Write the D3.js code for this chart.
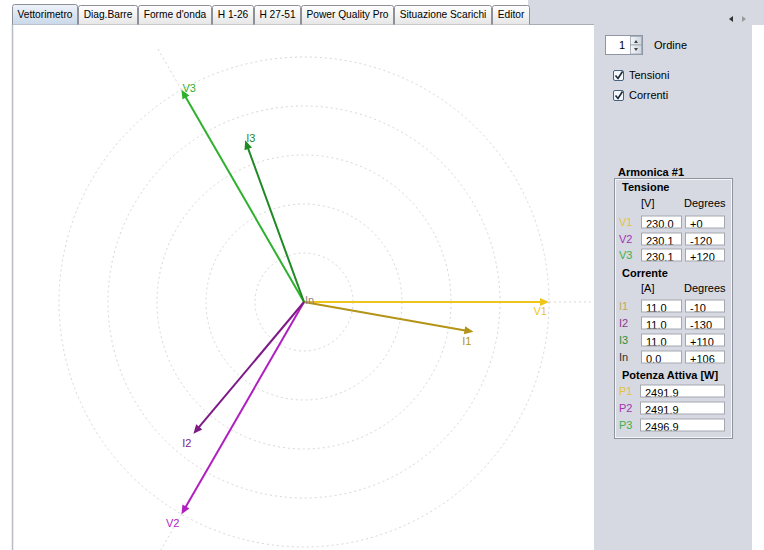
<!DOCTYPE html>
<html><head><meta charset="utf-8">
<script src="https://cdn.jsdelivr.net/npm/d3@7"></script>
<style>
html,body{margin:0;padding:0;background:#fff;}
svg{display:block;font-family:"Liberation Sans",Arial,sans-serif;}
</style></head>
<body>
<svg id="c" width="764" height="550"></svg>
<script>
// ---------- data ----------
const tabLabels = ["Vettorimetro","Diag.Barre","Forme d'onda","H 1-26","H 27-51","Power Quality Pro","Situazione Scarichi","Editor"];
const voltageLabels = ["V1","V2","V3"];
const voltageMag = [230.0, 230.1, 230.1];
const voltageDeg = [0, -120, 120];
const currentLabels = ["I1","I2","I3","In"];
const currentMag = [11.0, 11.0, 11.0, 0.0];
const currentDeg = [-10, -130, 110, 106];
const powerLabels = ["P1","P2","P3"];
const powerVals = [2491.9, 2491.9, 2496.9];
const ringTicks = [46, 92, 138, 184, 230];
const harmonicOrder = 1;

const voltageColors = ["#f0c419","#b01fbf","#2fb02f"];
const currentColors = ["#b39416","#7d1a86","#1f8a24","#888888"];
const labelColors = {V1:"#e6c23a",V2:"#a532b4",V3:"#3fb04a",I1:"#c2aa55",I2:"#8a3a90",I3:"#2f8f3a",In:"#333",P1:"#e6c23a",P2:"#a532b4",P3:"#3fb04a"};

// ---------- setup ----------
const svg = d3.select("#c");
const W = 764, H = 550;
const panelBg = "#d6d9e1";
const defs = svg.append("defs");
const loc = d3.formatLocale({decimal:".",thousands:"",grouping:[3],currency:["",""],minus:"-"});

// backgrounds
svg.append("rect").attr("x",0).attr("y",0).attr("width",W).attr("height",H).attr("fill","#fff");
svg.append("rect").attr("x",528).attr("y",0).attr("width",W-528).attr("height",25).attr("fill",panelBg);
svg.append("rect").attr("x",594).attr("y",25).attr("width",158).attr("height",H-25).attr("fill",panelBg);

// plot panel border
svg.append("line").attr("x1",12.5).attr("x2",12.5).attr("y1",24).attr("y2",H).attr("stroke","#b9bcc4").attr("stroke-width",1.5);
svg.append("line").attr("x1",12).attr("x2",594).attr("y1",24.5).attr("y2",24.5).attr("stroke","#a9adb5");

// ---------- tabs ----------
const tabG = svg.append("g");
const gTab = defs.append("linearGradient").attr("id","tabg").attr("x1",0).attr("x2",0).attr("y1",0).attr("y2",1);
gTab.append("stop").attr("offset","0").attr("stop-color","#ffffff");
gTab.append("stop").attr("offset","1").attr("stop-color","#e6e6e6");
const gSel = defs.append("linearGradient").attr("id","tabsel").attr("x1",0).attr("x2",0).attr("y1",0).attr("y2",1);
gSel.append("stop").attr("offset","0").attr("stop-color","#eef3f9");
gSel.append("stop").attr("offset","1").attr("stop-color","#c9d8e9");
let tx = 12;
const tabFont = 10.2;
const measure = svg.append("text").attr("font-size",tabFont).attr("visibility","hidden");
tabLabels.forEach((t,i)=>{
  measure.text(t);
  const w = Math.round(measure.node().getComputedTextLength()) + 11;
  const sel = i===0;
  const y0 = sel?4:5;
  tabG.append("path")
    .attr("d",`M${tx+0.5},24.5 V${y0+2.5} Q${tx+0.5},${y0+0.5} ${tx+2.5},${y0+0.5} H${tx+w-2.5} Q${tx+w-0.5},${y0+0.5} ${tx+w-0.5},${y0+2.5} V24.5`)
    .attr("fill",sel?"url(#tabsel)":"url(#tabg)").attr("stroke","#8d9096");
  tabG.append("text").attr("x",tx+w/2).attr("y",18).attr("text-anchor","middle").attr("font-size",tabFont).attr("fill","#000").text(t);
  tx += w;
});
measure.remove();
// scroll arrows
svg.append("path").attr("d","M729,19 L733,16 L733,22 Z").attr("fill","#333");
svg.append("path").attr("d","M742,16 L746,19 L742,22 Z").attr("fill","#9a9a9a");

// ---------- polar plot ----------
const cx = 304, cy = 302;
const clip = defs.append("clipPath").attr("id","plotclip");
clip.append("rect").attr("x",13).attr("y",25).attr("width",581).attr("height",H-25);
const plot = svg.append("g").attr("clip-path","url(#plotclip)");

const rV = d3.scaleLinear().domain([0, 230]).range([0, 245]);
const rI = d3.scaleLinear().domain([0, 11]).range([0, 172]);
const toRad = d3.scaleLinear().domain([0, 360]).range([0, 2*Math.PI]);
const px = (r,deg)=> cx + r*Math.cos(toRad(deg));
const py = (r,deg)=> cy - r*Math.sin(toRad(deg));

// rings
plot.selectAll("circle.ring").data(ringTicks).join("circle")
  .attr("cx",cx).attr("cy",cy).attr("r",d=>rV(d))
  .attr("fill","none").attr("stroke","#d6d6d6").attr("stroke-width",1).attr("stroke-dasharray","2,3");

// extension lines of voltage phasors
plot.selectAll("line.ext").data(voltageDeg).join("line")
  .attr("x1",d=>px(rV(230),d)).attr("y1",d=>py(rV(230),d))
  .attr("x2",d=>px(rV(230)*1.2,d)).attr("y2",d=>py(rV(230)*1.2,d))
  .attr("stroke","#d6d6d6").attr("stroke-dasharray","2,3");

function arrow(g, len, deg, color, width){
  if(len <= 0) return;
  const x2 = px(len,deg), y2 = py(len,deg);
  const hl = 9, hw = 4;
  const bx = px(len-hl,deg), by = py(len-hl,deg);
  const nx = Math.sin(toRad(deg)), ny = Math.cos(toRad(deg));
  g.append("line").attr("x1",cx).attr("y1",cy).attr("x2",px(len-4,deg)).attr("y2",py(len-4,deg))
    .attr("stroke",color).attr("stroke-width",width);
  g.append("path").attr("d",`M${x2},${y2} L${bx+nx*hw},${by+ny*hw} L${bx-nx*hw},${by-ny*hw} Z`).attr("fill",color);
}
function label(g, len, deg, text, color){
  const x = px(len,deg), y = py(len,deg);
  const upper = Math.sin(toRad(deg)) > 0.01;
  g.append("text").attr("x", upper? x+1 : x-2).attr("y", upper? y+2 : y+13)
    .attr("text-anchor", upper?"start":"end").attr("font-size",11).attr("fill",color).text(text);
}

const vecG = plot.append("g");
voltageMag.forEach((m,i)=> arrow(vecG, rV(m), voltageDeg[i], voltageColors[i], 2));
currentMag.forEach((m,i)=> arrow(vecG, rI(m), currentDeg[i], currentColors[i], 2));
voltageMag.forEach((m,i)=> label(vecG, rV(m), voltageDeg[i], voltageLabels[i], voltageColors[i]));
currentMag.forEach((m,i)=> label(vecG, rI(m), currentDeg[i], currentLabels[i], currentColors[i]));

// ---------- right panel ----------
const rp = svg.append("g");
// spinner
rp.append("rect").attr("x",605.5).attr("y",35.5).attr("width",37).attr("height",19).attr("fill","#fff").attr("stroke","#8e96a3");
rp.append("text").attr("x",625).attr("y",49).attr("text-anchor","end").attr("font-size",11).text(harmonicOrder);
const gBtn = defs.append("linearGradient").attr("id","btng").attr("x1",0).attr("x2",1).attr("y1",0).attr("y2",0);
gBtn.append("stop").attr("offset","0").attr("stop-color","#f4f6f9");
gBtn.append("stop").attr("offset","1").attr("stop-color","#cfd6df");
rp.append("rect").attr("x",630.5).attr("y",36.5).attr("width",11).attr("height",8.5).attr("fill","url(#btng)").attr("stroke","#9aa2ad").attr("stroke-width",0.8);
rp.append("rect").attr("x",630.5).attr("y",45).attr("width",11).attr("height",9).attr("fill","url(#btng)").attr("stroke","#9aa2ad").attr("stroke-width",0.8);
rp.append("path").attr("d","M634,43 L636,40 L638,43 Z").attr("fill","#444");
rp.append("path").attr("d","M634,48 L636,51 L638,48 Z").attr("fill","#444");
rp.append("text").attr("x",654).attr("y",49).attr("font-size",11).text("Ordine");

// checkboxes
const checks = ["Tensioni","Correnti"];
checks.forEach((t,i)=>{
  const y = 70 + i*20;
  rp.append("rect").attr("x",613.5).attr("y",y+0.5).attr("width",10).attr("height",10).attr("rx",1.5)
    .attr("fill","#f4f7fb").attr("stroke","#4a607c");
  rp.append("path").attr("d",`M615.5,${y+5.5} L618,${y+8.5} L622.5,${y+1.5}`).attr("fill","none").attr("stroke","#1b2a3c").attr("stroke-width",1.6);
  rp.append("text").attr("x",629).attr("y",y+9).attr("font-size",11).text(t);
});

// titled box
rp.append("text").attr("x",618).attr("y",176).attr("font-size",11).attr("font-weight","bold").text("Armonica #1");
rp.append("rect").attr("x",614.5).attr("y",178.5).attr("width",118).attr("height",260).attr("fill","none").attr("stroke","#8f939b");
rp.append("rect").attr("x",615.5).attr("y",179.5).attr("width",116).attr("height",258).attr("fill","none").attr("stroke","#f4f5f8");

const fmtMag = loc.format(".1f");
const fmtDeg = loc.format("+");
let fid = 0;
function field(x, yc, w, text){
  const id = "fc"+(fid++);
  const top = yc-6.5, h = 13;
  defs.append("clipPath").attr("id",id).append("rect").attr("x",x+1).attr("y",top+1).attr("width",w-2).attr("height",h-2);
  rp.append("rect").attr("x",x+0.5).attr("y",top+0.5).attr("width",w-1).attr("height",h-1).attr("fill","#fff").attr("stroke","#a3a8b0");
  rp.append("text").attr("x",x+5).attr("y",yc+6.3).attr("font-size",11).attr("clip-path",`url(#${id})`).text(text);
}
function bold(t,x,y){ rp.append("text").attr("x",x).attr("y",y).attr("font-size",11).attr("font-weight","bold").text(t); }
function plain(t,x,y,c){ rp.append("text").attr("x",x).attr("y",y).attr("font-size",11).attr("fill",c||"#000").text(t); }

bold("Tensione",622,191);
plain("[V]",641,207); plain("Degrees",684,207);
const vRows = [222,239,255];
voltageLabels.forEach((l,i)=>{
  plain(l,619,vRows[i]+4,labelColors[l]);
  field(641,vRows[i],41,fmtMag(voltageMag[i]));
  field(685,vRows[i],40,fmtDeg(voltageDeg[i]));
});
bold("Corrente",622,277);
plain("[A]",641,292); plain("Degrees",684,292);
const iRows = [306,323,340,357];
currentLabels.forEach((l,i)=>{
  plain(l,619,iRows[i]+4,labelColors[l]);
  field(641,iRows[i],41,fmtMag(currentMag[i]));
  field(685,iRows[i],40,fmtDeg(currentDeg[i]));
});
bold("Potenza Attiva [W]",622,379);
const pRows = [391,408,425];
powerLabels.forEach((l,i)=>{
  plain(l,619,pRows[i]+4,labelColors[l]);
  field(640,pRows[i],85,fmtMag(powerVals[i]));
});
</script>
</body></html>
